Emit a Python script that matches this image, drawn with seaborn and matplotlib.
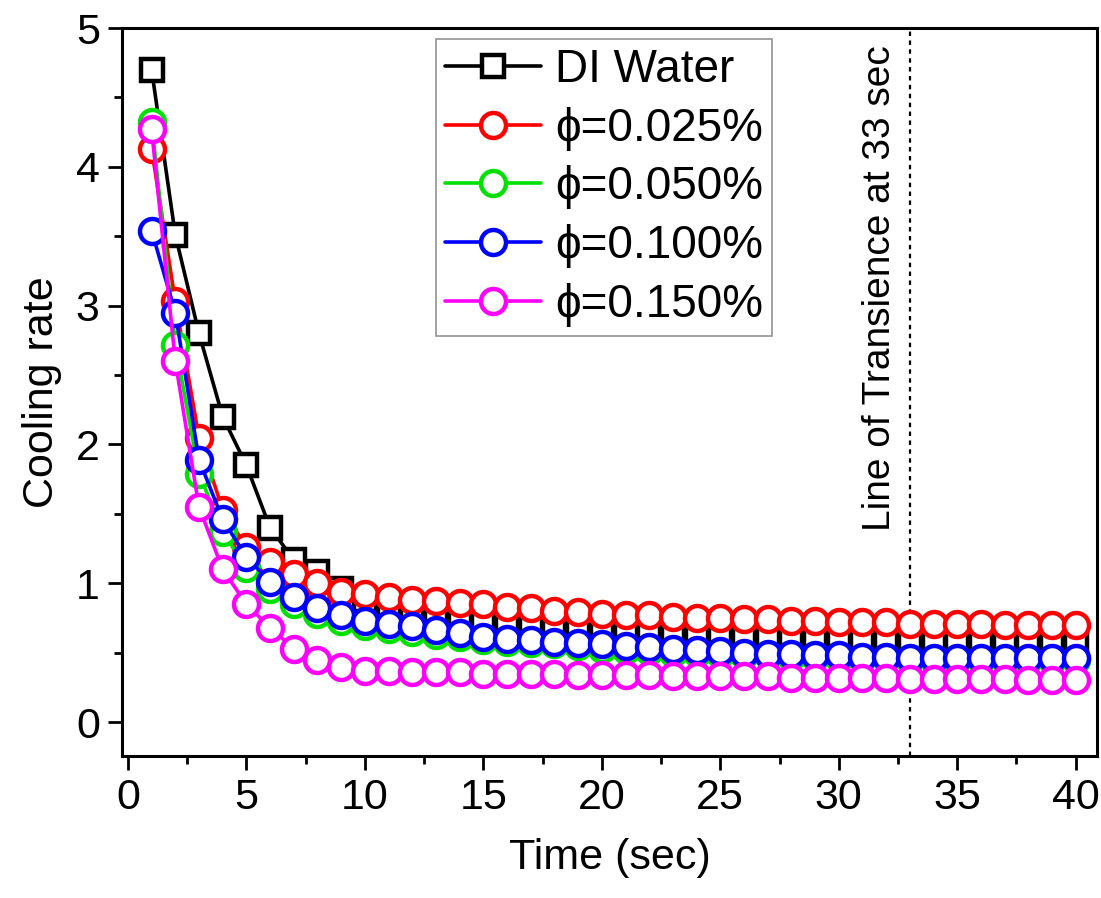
import numpy as np
import pandas as pd
import matplotlib
matplotlib.use("Agg")
import matplotlib.pyplot as plt
from matplotlib.ticker import MultipleLocator
import seaborn as sns

# Time axis (s)
time_s = list(range(1, 41))

# Cooling rate for each coolant
di_water = [4.70, 3.51, 2.80, 2.20, 1.85, 1.40, 1.17, 1.08, 0.96, 0.88,
            0.83, 0.79, 0.76, 0.74, 0.73, 0.72, 0.70, 0.69, 0.67, 0.66,
            0.65, 0.64, 0.63, 0.62, 0.61, 0.61, 0.60, 0.59, 0.59, 0.59,
            0.59, 0.59, 0.59, 0.59, 0.59, 0.58, 0.58, 0.58, 0.58, 0.58]
phi_0025 = [4.13, 3.03, 2.05, 1.53, 1.26, 1.15, 1.07, 1.00, 0.94, 0.92,
            0.90, 0.88, 0.87, 0.86, 0.85, 0.83, 0.82, 0.80, 0.79, 0.78,
            0.77, 0.77, 0.76, 0.75, 0.75, 0.74, 0.74, 0.73, 0.73, 0.72,
            0.72, 0.72, 0.71, 0.71, 0.71, 0.71, 0.70, 0.70, 0.70, 0.70]
phi_0050 = [4.32, 2.72, 1.79, 1.37, 1.11, 0.96, 0.85, 0.78, 0.73, 0.69,
            0.67, 0.65, 0.63, 0.61, 0.59, 0.58, 0.57, 0.56, 0.55, 0.53,
            0.52, 0.51, 0.50, 0.50, 0.49, 0.48, 0.48, 0.47, 0.47, 0.46,
            0.46, 0.46, 0.45, 0.45, 0.45, 0.45, 0.45, 0.45, 0.45, 0.45]
phi_0100 = [3.54, 2.95, 1.89, 1.46, 1.19, 1.01, 0.90, 0.82, 0.77, 0.73,
            0.71, 0.69, 0.66, 0.64, 0.61, 0.60, 0.59, 0.58, 0.57, 0.56,
            0.55, 0.54, 0.53, 0.52, 0.51, 0.50, 0.49, 0.49, 0.48, 0.48,
            0.47, 0.47, 0.46, 0.46, 0.46, 0.46, 0.46, 0.46, 0.46, 0.46]
phi_0150 = [4.27, 2.60, 1.55, 1.10, 0.85, 0.68, 0.53, 0.45, 0.40, 0.37,
            0.37, 0.36, 0.36, 0.36, 0.35, 0.35, 0.35, 0.35, 0.34, 0.34,
            0.34, 0.34, 0.33, 0.33, 0.33, 0.33, 0.33, 0.32, 0.32, 0.32,
            0.32, 0.32, 0.31, 0.31, 0.31, 0.31, 0.31, 0.30, 0.30, 0.30]

series_labels = ["DI Water", "\u03d5=0.025%", "\u03d5=0.050%", "\u03d5=0.100%", "\u03d5=0.150%"]
series_values = [di_water, phi_0025, phi_0050, phi_0100, phi_0150]
series_colors = ["#000000", "#ff0000", "#00e000", "#0000ff", "#ff00ff"]
series_markers = ["s", "o", "o", "o", "o"]

x_ticks = [0, 5, 10, 15, 20, 25, 30, 35, 40]
y_ticks = [0, 1, 2, 3, 4, 5]
transience_t = 33

sns.set_theme(style="ticks")
plt.rcParams["font.family"] = ["Liberation Sans", "DejaVu Sans"]
plt.rcParams["text.color"] = "black"
plt.rcParams["axes.labelcolor"] = "black"
plt.rcParams["xtick.color"] = "black"
plt.rcParams["ytick.color"] = "black"

fig = plt.figure(figsize=(11.01, 8.98), dpi=100)
ax = fig.add_axes([0.1108, 0.158, 0.8856, 0.8108])

for lab, vals, col, mk in zip(series_labels, series_values, series_colors, series_markers):
    sns.lineplot(x=time_s, y=vals, ax=ax, color=col, lw=2.6, marker=mk,
                 markersize=18 if mk == "o" else 16, markerfacecolor="white",
                 markeredgecolor=col, markeredgewidth=3.2, label=lab)

ax.axvline(transience_t, color="black", lw=1.6, ls=(0, (2, 2)), zorder=1)
ax.text(31.75, 1.38, "Line of Transience at 33 sec", rotation=90,
        ha="center", va="bottom", fontsize=28, color="black")

ax.set_xlim(-0.25, 40.9)
ax.set_ylim(-0.245, 5.0)
ax.set_xticks(x_ticks)
ax.set_yticks(y_ticks)
ax.xaxis.set_minor_locator(MultipleLocator(2.5))
ax.yaxis.set_minor_locator(MultipleLocator(0.5))
ax.tick_params(axis="both", which="major", direction="out", length=10, width=2,
               labelsize=31, pad=6, colors="black")
ax.tick_params(axis="both", which="minor", direction="out", length=6, width=2)
ax.tick_params(axis="x", which="both", top=False)
ax.tick_params(axis="y", which="both", right=False)
for sp in ax.spines.values():
    sp.set_visible(True)
    sp.set_linewidth(2.2)
    sp.set_color("black")

ax.set_xlabel("Time (sec)", fontsize=31, labelpad=14, color="black")
ax.set_ylabel("Cooling rate", fontsize=31, labelpad=10, color="black")

leg = ax.legend(loc="upper left", bbox_to_anchor=(0.322, 0.985), fontsize=33,
                frameon=True, fancybox=False, edgecolor="#777777",
                handlelength=2.1, handletextpad=0.3, labelspacing=0.32,
                borderpad=0.2, borderaxespad=0.0)
leg.get_frame().set_linewidth(1.2)
for t in leg.get_texts():
    t.set_color("black")

fig.savefig("out.png", dpi=100)
